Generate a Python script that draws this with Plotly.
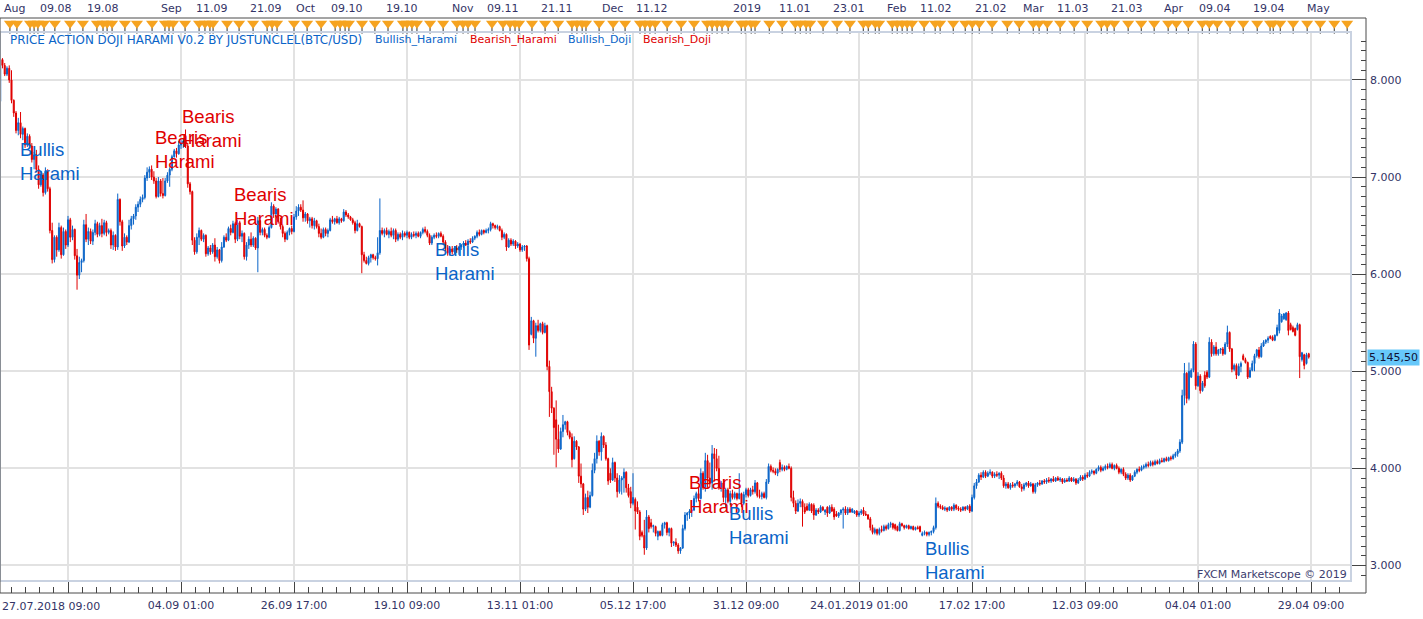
import plotly.graph_objects as go

# ---------------- DATA (8-hour BTC/USD bars, index 0 = 27.07.2018 09:00) ----------------
opens = [
    7780, 8210, 8150, 8060, 8120, 8000, 7790, 7660, 7480, 7560,
    7440, 7500, 7330, 7420, 7320, 7180, 7230, 7080, 6920, 7020,
    6840, 7060, 6880, 6450, 6150, 6380, 6250, 6480, 6200, 6440,
    6300, 6560, 6380, 6460, 6190, 5990, 6120, 6140, 6510, 6360,
    6440, 6340, 6430, 6520, 6410, 6500, 6420, 6530, 6430, 6450,
    6300, 6400, 6280, 6770, 6540, 6290, 6380, 6330, 6500, 6570,
    6600, 6690, 6720, 6770, 6790, 6990, 7050, 7080, 7000, 6960,
    6800, 6960, 6830, 6810, 6960, 7020, 7080, 7210, 7270, 7240,
    7330, 7350, 7370, 7320, 6930, 6850, 6350, 6230, 6380, 6450,
    6360, 6400, 6210, 6270, 6230, 6300, 6180, 6250, 6140, 6280,
    6380, 6350, 6470, 6430, 6520, 6360, 6530, 6390, 6420, 6180,
    6300, 6360, 6300, 6370, 6270, 6550, 6430, 6460, 6400, 6380,
    6480, 6700, 6620, 6670, 6540, 6490, 6420, 6360, 6430, 6470,
    6440, 6590, 6650, 6690, 6660, 6580, 6620, 6550, 6570, 6500,
    6550, 6490, 6420, 6380, 6460, 6420, 6450, 6560, 6540, 6570,
    6530, 6570, 6550, 6640, 6610, 6590, 6560, 6530, 6450, 6520,
    6490, 6200, 6140, 6110, 6170, 6200, 6170, 6160, 6220, 6450,
    6420, 6450, 6410, 6440, 6400, 6450, 6360, 6410, 6380, 6420,
    6400, 6430, 6380, 6410, 6400, 6420, 6390, 6430, 6460, 6440,
    6400, 6320, 6380, 6400, 6390, 6420, 6390, 6330, 6270, 6220,
    6260, 6230, 6270, 6250, 6280, 6300, 6320, 6300, 6340, 6330,
    6370, 6390, 6430, 6410, 6450, 6430, 6450, 6460, 6520, 6500,
    6480, 6490, 6450, 6380, 6410, 6280, 6350, 6310, 6340, 6290,
    6310, 6250, 6280, 6290, 6160, 5380, 5520, 5340, 5470, 5420,
    5490, 5400, 5470, 5050, 4790, 4620, 4500, 4300, 4200, 4380,
    4450, 4480, 4370, 4320, 4100, 4280, 4220, 3920, 3840, 3580,
    3700, 3600, 3720, 3980, 4100, 4280, 4170, 4330, 4240, 4100,
    3950, 3880, 4060, 3900, 3760, 3880, 3900, 3960, 3800, 3760,
    3640, 3680, 3600, 3550, 3340, 3310, 3180, 3500, 3440, 3400,
    3400, 3300, 3350, 3310, 3420, 3440, 3340, 3380, 3230, 3240,
    3210, 3150, 3180, 3380, 3520, 3540, 3560, 3570, 3690, 3740,
    3690, 3950, 3800, 4080, 3900, 3850, 4150, 4100, 4000, 3800,
    3850, 3700, 3780, 3660, 3740, 3700, 3740, 3690, 3740, 3640,
    3730, 3780, 3720, 3780, 3760, 3850, 3720, 3710, 3740, 3700,
    3860, 4020, 3980, 3970, 3950, 4060, 3990, 4010, 3990, 4020,
    4000, 3700, 3640, 3560, 3640, 3660, 3600, 3610, 3570, 3630,
    3620, 3520, 3570, 3550, 3600, 3550, 3600, 3540, 3600, 3580,
    3530, 3510, 3540, 3570, 3580, 3540, 3580, 3550, 3540, 3560,
    3520, 3540, 3570, 3530, 3520, 3480, 3390, 3340, 3370, 3330,
    3370, 3360, 3400, 3380, 3420, 3430, 3420, 3400, 3360, 3430,
    3410, 3390, 3410, 3380, 3400, 3370, 3390, 3400, 3310, 3330,
    3340, 3320, 3340, 3350, 3390, 3640, 3610, 3600, 3580, 3590,
    3570, 3600, 3580, 3620, 3590, 3580, 3570, 3600, 3580, 3610,
    3560, 3700, 3820, 3860, 3930, 3910, 3960, 3920, 3950, 3960,
    3920, 3940, 3930, 3950, 3900, 3820, 3840, 3800, 3830, 3820,
    3840, 3860, 3810, 3790, 3830, 3850, 3820, 3840, 3760, 3830,
    3850, 3840, 3870, 3860, 3880, 3870, 3890, 3870, 3900, 3880,
    3890, 3860, 3880, 3870, 3900, 3870, 3890, 3850, 3880, 3910,
    3890, 3930, 3920, 3960, 3970, 3950, 3990, 4010, 3980, 4000,
    4020, 4010, 4040, 4000, 4030, 4000, 3960, 3990, 3940, 3900,
    3930, 3880, 3920, 3960, 3990, 3980, 4010, 4020, 4040, 4030,
    4060, 4040, 4070, 4050, 4080, 4070, 4100, 4080, 4110, 4100,
    4130, 4150, 4180, 4270, 4750, 4980, 4720, 4940, 5010, 5280,
    4850, 4950, 4800, 4960, 4990, 4940, 5300, 5180, 5250, 5180,
    5220, 5230, 5180, 5280, 5400, 5230, 5020, 5060, 4960, 5050,
    5160, 5120, 5090, 4940, 5010, 5080, 5160, 5220, 5150, 5260,
    5300, 5320, 5360, 5350, 5320, 5370, 5420, 5510, 5540, 5530,
    5600, 5480, 5450, 5440, 5430, 5480, 5120, 5170, 5080, 5180,
]
highs = [
    8240, 8225, 8175, 8140, 8150, 8100, 7800, 7680, 7610, 7670,
    7520, 7510, 7450, 7440, 7350, 7260, 7280, 7120, 7060, 7040,
    7100, 7080, 6900, 6530, 6400, 6400, 6530, 6500, 6480, 6460,
    6600, 6580, 6500, 6470, 6260, 6180, 6160, 6560, 6620, 6480,
    6470, 6460, 6560, 6540, 6530, 6570, 6560, 6550, 6470, 6470,
    6440, 6410, 6830, 6780, 6560, 6420, 6400, 6560, 6600, 6620,
    6720, 6750, 6800, 6820, 7020, 7100, 7110, 7120, 7060, 6990,
    7000, 6980, 6990, 6990, 7050, 7100, 7230, 7290, 7300, 7370,
    7380, 7400, 7490, 7350, 6950, 6860, 6380, 6420, 6480, 6460,
    6420, 6410, 6290, 6300, 6320, 6370, 6280, 6260, 6330, 6400,
    6420, 6490, 6510, 6550, 6540, 6560, 6550, 6450, 6430, 6330,
    6390, 6430, 6390, 6380, 6590, 6560, 6480, 6480, 6420, 6500,
    6740, 6720, 6690, 6680, 6580, 6510, 6440, 6450, 6480, 6500,
    6620, 6700, 6720, 6720, 6760, 6640, 6630, 6590, 6590, 6580,
    6560, 6520, 6470, 6480, 6480, 6470, 6580, 6600, 6580, 6600,
    6590, 6580, 6670, 6660, 6630, 6600, 6580, 6550, 6560, 6530,
    6500, 6230, 6180, 6190, 6210, 6210, 6190, 6380, 6780, 6480,
    6470, 6480, 6460, 6480, 6470, 6470, 6430, 6430, 6450, 6440,
    6450, 6440, 6430, 6440, 6440, 6440, 6440, 6480, 6490, 6460,
    6420, 6400, 6420, 6430, 6430, 6440, 6410, 6350, 6300, 6280,
    6290, 6290, 6300, 6290, 6310, 6340, 6350, 6360, 6370, 6390,
    6400, 6450, 6460, 6460, 6460, 6470, 6480, 6540, 6530, 6510,
    6510, 6500, 6470, 6430, 6420, 6370, 6370, 6360, 6350, 6330,
    6320, 6300, 6300, 6300, 6180, 5560, 5530, 5500, 5530, 5500,
    5510, 5500, 5480, 5110, 4840, 4630, 4700, 4450, 4420, 4550,
    4490, 4490, 4390, 4360, 4330, 4290, 4230, 4050, 3850, 3740,
    3770, 3760, 4050, 4160, 4340, 4290, 4370, 4340, 4270, 4110,
    4000, 4110, 4070, 3950, 3930, 3920, 4000, 3970, 3840, 3810,
    3950, 3700, 3660, 3570, 3360, 3470, 3570, 3520, 3480, 3420,
    3410, 3360, 3360, 3440, 3450, 3450, 3390, 3390, 3250, 3280,
    3230, 3190, 3420, 3550, 3550, 3580, 3580, 3720, 3760, 3800,
    4000, 3970, 4160, 4140, 4060, 4240, 4210, 4200, 4130, 3870,
    3890, 3800, 3800, 3770, 3780, 3760, 3750, 3950, 3750, 3760,
    3800, 3800, 3800, 3820, 3880, 3860, 3780, 3760, 3760, 3890,
    4050, 4040, 4010, 4000, 4000, 4090, 4040, 4030, 4030, 4050,
    4020, 3770, 3670, 3680, 3690, 3680, 3640, 3640, 3650, 3640,
    3640, 3590, 3590, 3620, 3610, 3580, 3610, 3620, 3630, 3600,
    3560, 3550, 3580, 3600, 3610, 3600, 3600, 3590, 3570, 3570,
    3560, 3580, 3600, 3560, 3530, 3500, 3420, 3390, 3380, 3390,
    3410, 3420, 3420, 3440, 3450, 3440, 3430, 3410, 3450, 3440,
    3420, 3420, 3420, 3410, 3410, 3400, 3410, 3410, 3350, 3360,
    3350, 3350, 3360, 3410, 3700, 3660, 3630, 3620, 3610, 3600,
    3610, 3610, 3640, 3630, 3610, 3600, 3610, 3610, 3620, 3630,
    3730, 3850, 3890, 3950, 3960, 3980, 3980, 3970, 3990, 3970,
    3960, 3970, 3960, 3970, 3930, 3860, 3860, 3850, 3860, 3850,
    3880, 3870, 3840, 3850, 3860, 3870, 3860, 3850, 3850, 3860,
    3880, 3880, 3890, 3900, 3910, 3900, 3920, 3910, 3920, 3910,
    3900, 3900, 3900, 3920, 3910, 3910, 3900, 3900, 3930, 3930,
    3950, 3960, 3980, 3990, 3980, 4000, 4030, 4030, 4020, 4040,
    4050, 4060, 4060, 4040, 4050, 4020, 4000, 4010, 3960, 3950,
    3950, 3930, 3980, 4000, 4020, 4030, 4040, 4060, 4070, 4080,
    4080, 4090, 4090, 4100, 4110, 4110, 4120, 4120, 4130, 4150,
    4170, 4200, 4300, 4810, 5085, 4990, 5090, 5030, 5310, 5300,
    4990, 4970, 4900, 5000, 5010, 5350, 5330, 5270, 5300, 5230,
    5240, 5250, 5300, 5470, 5410, 5240, 5080, 5080, 5080, 5100,
    5180, 5140, 5100, 5040, 5110, 5180, 5230, 5250, 5290, 5320,
    5330, 5360, 5370, 5370, 5380, 5480, 5640, 5590, 5600, 5610,
    5620, 5500, 5470, 5450, 5500, 5490, 5200, 5180, 5190, 5190,
]
lows = [
    7760, 8120, 8040, 8040, 7970, 7760, 7620, 7450, 7430, 7400,
    7380, 7300, 7310, 7300, 7150, 7080, 7050, 6880, 6900, 6800,
    6820, 6850, 6420, 6110, 6120, 6180, 6230, 6160, 6190, 6260,
    6280, 6330, 6350, 6150, 5840, 5950, 6020, 6120, 6330, 6300,
    6310, 6300, 6400, 6380, 6390, 6380, 6400, 6390, 6410, 6260,
    6250, 6240, 6250, 6500, 6240, 6270, 6300, 6320, 6460, 6510,
    6560, 6640, 6690, 6740, 6770, 6960, 6990, 6970, 6930, 6780,
    6790, 6800, 6780, 6800, 6940, 6900, 7060, 7200, 7200, 7230,
    7290, 7300, 7300, 6890, 6820, 6300, 6200, 6210, 6300, 6340,
    6330, 6180, 6190, 6200, 6210, 6130, 6160, 6110, 6120, 6270,
    6330, 6340, 6400, 6420, 6320, 6340, 6360, 6330, 6150, 6140,
    6260, 6280, 6280, 6250, 6020, 6400, 6400, 6380, 6360, 6370,
    6470, 6580, 6590, 6520, 6460, 6380, 6330, 6350, 6400, 6410,
    6430, 6560, 6600, 6640, 6540, 6540, 6520, 6480, 6470, 6460,
    6470, 6380, 6360, 6370, 6390, 6380, 6440, 6520, 6510, 6520,
    6510, 6530, 6540, 6590, 6570, 6550, 6510, 6420, 6440, 6480,
    6010, 6120, 6100, 6090, 6120, 6150, 6140, 6090, 6200, 6400,
    6380, 6400, 6370, 6380, 6360, 6330, 6340, 6360, 6350, 6380,
    6370, 6360, 6360, 6380, 6370, 6380, 6370, 6410, 6420, 6380,
    6300, 6300, 6360, 6370, 6370, 6380, 6310, 6240, 6190, 6190,
    6200, 6210, 6220, 6200, 6250, 6270, 6290, 6290, 6310, 6320,
    6350, 6370, 6390, 6400, 6410, 6420, 6420, 6440, 6470, 6460,
    6460, 6440, 6350, 6360, 6240, 6270, 6290, 6290, 6260, 6270,
    6230, 6230, 6240, 6130, 5220, 5370, 5290, 5150, 5400, 5400,
    5380, 5390, 5010, 4530, 4570, 4140, 4010, 4160, 4190, 4320,
    4400, 4340, 4300, 4010, 4090, 4190, 3850, 3800, 3520, 3560,
    3540, 3590, 3710, 3950, 4050, 4130, 4080, 4210, 4080, 3830,
    3850, 3870, 3860, 3700, 3740, 3730, 3750, 3750, 3700, 3590,
    3620, 3370, 3530, 3260, 3290, 3110, 3160, 3340, 3380, 3340,
    3300, 3260, 3300, 3300, 3380, 3310, 3300, 3190, 3200, 3190,
    3120, 3120, 3170, 3360, 3460, 3480, 3500, 3560, 3650, 3660,
    3680, 3780, 3760, 3800, 3810, 3780, 3870, 3970, 3780, 3760,
    3650, 3600, 3640, 3620, 3680, 3680, 3670, 3680, 3600, 3620,
    3700, 3700, 3710, 3730, 3740, 3700, 3690, 3680, 3690, 3680,
    3840, 3960, 3950, 3930, 3920, 3960, 3970, 3970, 3980, 3990,
    3660, 3600, 3530, 3550, 3600, 3400, 3530, 3560, 3560, 3540,
    3470, 3510, 3530, 3540, 3560, 3520, 3500, 3530, 3550, 3470,
    3500, 3490, 3520, 3380, 3520, 3520, 3540, 3540, 3530, 3500,
    3500, 3520, 3510, 3510, 3470, 3360, 3320, 3320, 3310, 3310,
    3340, 3350, 3360, 3370, 3390, 3370, 3360, 3350, 3350, 3400,
    3370, 3380, 3370, 3370, 3360, 3360, 3370, 3340, 3300, 3310,
    3300, 3300, 3310, 3330, 3370, 3590, 3580, 3570, 3560, 3550,
    3560, 3560, 3560, 3570, 3560, 3550, 3560, 3560, 3570, 3540,
    3550, 3680, 3790, 3850, 3880, 3900, 3900, 3910, 3930, 3900,
    3900, 3910, 3890, 3880, 3800, 3790, 3790, 3780, 3800, 3800,
    3820, 3800, 3760, 3770, 3810, 3800, 3810, 3740, 3740, 3810,
    3820, 3830, 3840, 3840, 3850, 3850, 3860, 3860, 3870, 3860,
    3840, 3850, 3860, 3860, 3860, 3860, 3830, 3840, 3870, 3870,
    3880, 3900, 3910, 3940, 3930, 3940, 3970, 3960, 3970, 3980,
    3990, 4000, 3990, 3980, 3990, 3940, 3940, 3920, 3880, 3880,
    3860, 3870, 3910, 3940, 3960, 3970, 3990, 4000, 4010, 4020,
    4020, 4030, 4040, 4040, 4060, 4060, 4070, 4070, 4080, 4090,
    4110, 4120, 4160, 4250, 4650, 4670, 4700, 4930, 4990, 4810,
    4840, 4770, 4790, 4830, 4920, 4930, 5150, 5160, 5160, 5160,
    5180, 5160, 5170, 5250, 5200, 4990, 5000, 4920, 4950, 4990,
    5110, 5080, 4920, 4930, 5000, 5000, 5140, 5130, 5140, 5250,
    5280, 5290, 5330, 5310, 5310, 5360, 5390, 5500, 5530, 5520,
    5370, 5420, 5400, 5360, 5420, 4930, 5100, 5020, 5070, 5130,
]
closes = [
    8210, 8150, 8060, 8120, 8000, 7790, 7660, 7480, 7560, 7440,
    7500, 7330, 7420, 7320, 7180, 7230, 7080, 6920, 7020, 6840,
    7060, 6880, 6450, 6150, 6380, 6250, 6480, 6200, 6440, 6300,
    6560, 6380, 6460, 6190, 5990, 6120, 6140, 6510, 6360, 6440,
    6340, 6430, 6520, 6410, 6500, 6420, 6530, 6430, 6450, 6300,
    6400, 6280, 6770, 6540, 6290, 6380, 6330, 6500, 6570, 6600,
    6690, 6720, 6770, 6790, 6990, 7050, 7080, 7000, 6960, 6800,
    6960, 6830, 6810, 6960, 7020, 7080, 7210, 7270, 7240, 7330,
    7350, 7370, 7320, 6930, 6850, 6350, 6230, 6380, 6450, 6360,
    6400, 6210, 6270, 6230, 6300, 6180, 6250, 6140, 6280, 6380,
    6350, 6470, 6430, 6520, 6360, 6530, 6390, 6420, 6180, 6300,
    6360, 6300, 6370, 6270, 6550, 6430, 6460, 6400, 6380, 6480,
    6700, 6620, 6670, 6540, 6490, 6420, 6360, 6430, 6470, 6440,
    6590, 6650, 6690, 6660, 6580, 6620, 6550, 6570, 6500, 6550,
    6490, 6420, 6380, 6460, 6420, 6450, 6560, 6540, 6570, 6530,
    6570, 6550, 6640, 6610, 6590, 6560, 6530, 6450, 6520, 6490,
    6200, 6140, 6110, 6170, 6200, 6170, 6160, 6220, 6450, 6420,
    6450, 6410, 6440, 6400, 6450, 6360, 6410, 6380, 6420, 6400,
    6430, 6380, 6410, 6400, 6420, 6390, 6430, 6460, 6440, 6400,
    6320, 6380, 6400, 6390, 6420, 6390, 6330, 6270, 6220, 6260,
    6230, 6270, 6250, 6280, 6300, 6320, 6300, 6340, 6330, 6370,
    6390, 6430, 6410, 6450, 6430, 6450, 6460, 6520, 6500, 6480,
    6490, 6450, 6380, 6410, 6280, 6350, 6310, 6340, 6290, 6310,
    6250, 6280, 6290, 6160, 5270, 5520, 5340, 5470, 5420, 5490,
    5400, 5470, 5050, 4790, 4620, 4420, 4300, 4200, 4380, 4450,
    4480, 4370, 4320, 4090, 4280, 4220, 3920, 3840, 3580, 3700,
    3600, 3720, 3980, 4100, 4280, 4170, 4330, 4240, 4100, 3870,
    3880, 4060, 3900, 3760, 3880, 3900, 3960, 3800, 3720, 3640,
    3700, 3560, 3550, 3300, 3310, 3180, 3500, 3380, 3400, 3410,
    3330, 3350, 3310, 3420, 3440, 3340, 3380, 3230, 3240, 3210,
    3150, 3180, 3380, 3520, 3540, 3560, 3570, 3690, 3740, 3690,
    3950, 3800, 4080, 3900, 3850, 4150, 4100, 4000, 3800, 3850,
    3700, 3780, 3660, 3740, 3700, 3740, 3690, 3740, 3640, 3730,
    3780, 3720, 3780, 3760, 3850, 3720, 3710, 3740, 3700, 3860,
    4020, 3980, 3970, 3950, 3990, 3990, 4010, 3990, 4020, 4000,
    3700, 3640, 3560, 3640, 3660, 3600, 3550, 3570, 3630, 3560,
    3520, 3570, 3550, 3600, 3570, 3570, 3540, 3600, 3560, 3500,
    3510, 3540, 3570, 3580, 3540, 3580, 3550, 3580, 3560, 3520,
    3540, 3560, 3530, 3520, 3480, 3390, 3340, 3370, 3330, 3370,
    3360, 3400, 3380, 3420, 3430, 3390, 3380, 3360, 3430, 3410,
    3390, 3410, 3380, 3400, 3370, 3390, 3380, 3350, 3330, 3340,
    3320, 3340, 3350, 3390, 3640, 3610, 3600, 3580, 3590, 3570,
    3600, 3580, 3620, 3590, 3580, 3570, 3600, 3580, 3610, 3560,
    3700, 3820, 3860, 3930, 3910, 3960, 3920, 3950, 3960, 3920,
    3940, 3930, 3950, 3900, 3820, 3840, 3800, 3830, 3820, 3840,
    3860, 3810, 3790, 3830, 3850, 3820, 3840, 3760, 3830, 3850,
    3840, 3870, 3860, 3880, 3870, 3890, 3870, 3900, 3880, 3890,
    3860, 3880, 3870, 3900, 3870, 3890, 3850, 3880, 3910, 3890,
    3930, 3920, 3960, 3970, 3950, 3990, 4010, 3980, 4000, 4020,
    4010, 4040, 4000, 4030, 4000, 3960, 3990, 3940, 3900, 3930,
    3880, 3920, 3960, 3990, 3980, 4010, 4020, 4040, 4030, 4060,
    4040, 4070, 4050, 4080, 4070, 4100, 4080, 4110, 4100, 4130,
    4150, 4180, 4270, 4750, 4980, 4720, 5000, 5010, 5280, 4850,
    4950, 4800, 4880, 4850, 4940, 5300, 5180, 5250, 5180, 5220,
    5230, 5180, 5280, 5400, 5230, 5020, 5060, 4960, 5050, 5080,
    5120, 5090, 4940, 5010, 5080, 5160, 5220, 5150, 5260, 5300,
    5320, 5340, 5340, 5320, 5370, 5450, 5600, 5570, 5590, 5600,
    5420, 5430, 5410, 5370, 5480, 5150, 5190, 5060, 5170, 5145.5,
]
assert len(opens) == len(highs) == len(lows) == len(closes)
bars = list(range(len(closes)))
last_price = closes[-1]

# bottom time axis (bar index -> label)
bottom_tick_bars = [30, 80, 130, 180, 230, 280, 330, 380, 430, 480, 530, 580]
bottom_tick_labels = ["", "04.09 01:00", "26.09 17:00", "19.10 09:00", "13.11 01:00",
                      "05.12 17:00", "31.12 09:00", "24.01.2019 01:00", "17.02 17:00",
                      "12.03 09:00", "04.04 01:00", "29.04 09:00"]
first_bar_label = "27.07.2018 09:00"

# top calendar axis
top_label_bars = [6.5, 24.7, 45.5, 75.6, 93.9, 117.8, 135.5, 153.5, 177.6, 204.6, 222.3,
                  246.4, 270.9, 288.4, 330.4, 351.7, 375.6, 396.4, 414.1, 438.6, 457.0,
                  474.5, 498.6, 519.4, 537.3, 561.2, 583.5]
top_labels = ["Aug", "09.08", "19.08", "Sep", "11.09", "21.09", "Oct", "09.10", "19.10",
              "Nov", "09.11", "21.11", "Dec", "11.12", "2019", "11.01", "23.01", "Feb",
              "11.02", "21.02", "Mar", "11.03", "21.03", "Apr", "09.04", "19.04", "May"]

# calendar event markers (bar index)
event_bars = [4.3, 7.4, 13.2, 15.0, 16.7, 19.4, 24.2, 30.9, 36.6, 42.8, 45.5, 47.3, 49.5,
              55.2, 60.5, 67.2, 72.9, 74.7, 76.5, 81.8, 88.0, 90.6, 92.8, 94.2, 100.4,
              105.7, 111.9, 118.1, 120.3, 122.5, 130.0, 135.8, 142.0, 148.2, 150.4, 152.6,
              154.3, 160.1, 165.8, 171.6, 178.2, 180.0, 182.2, 184.4, 190.2, 196.0, 202.1,
              204.8, 207.0, 210.1, 217.6, 222.5, 225.6, 227.8, 229.6, 235.3, 241.1, 246.9,
              253.0, 255.2, 257.5, 259.2, 265.0, 271.2, 276.5, 283.1, 285.3, 287.5, 289.8,
              295.1, 301.3, 307.0, 312.8, 315.0, 317.2, 319.4, 322.1, 327.9, 329.6, 332.3,
              334.0, 340.3, 346.0, 351.8, 354.0, 356.6, 358.4, 364.1, 370.3, 376.0, 381.9,
              384.1, 387.2, 388.9, 394.7, 396.9, 399.1, 401.3, 403.5, 408.8, 413.7, 415.9,
              421.7, 427.0, 430.1, 433.2, 438.9, 445.6, 450.9, 457.1, 459.7, 463.3, 469.0,
              475.2, 481.0, 487.2, 489.8, 492.9, 499.1, 504.9, 510.6, 516.8, 520.4, 525.7,
              531.9, 535.0, 538.5, 544.2, 550.0, 556.2, 561.9, 563.3, 566.4, 572.1, 578.3,
              584.1, 590.3, 596.0]

# pattern labels (bar index, price at text top, kind)
pattern_bars = [8.0, 67.5, 79.6, 102.7, 191.6, 304.0, 321.5, 408.4]
pattern_prices = [7416, 7536, 7749, 6946, 6386, 3983, 3663, 3306]
pattern_kinds = ["bull", "bear", "bear", "bear", "bull", "bear", "bull", "bull"]

legend_items = ["PRICE ACTION DOJI HARAMI V0.2 BY JUSTUNCLEL(BTC/USD)", "Bullish_Harami",
                "Bearish_Harami", "Bullish_Doji", "Bearish_Doji"]
legend_kinds = ["bull", "bull", "bear", "bull", "bear"]

y_ticks = [3000, 4000, 5000, 6000, 7000, 8000]

# ---------------- STYLE / LAYOUT ----------------
BLUE = "#0a64c8"
RED = "#e00000"
AXIS_TXT = "#333366"
FONT = "DejaVu Sans"
W, H = 1423, 619
ML, MR, MT, MB = 0, 57, 18, 26
PW, PH = W - ML - MR, H - MT - MB
INNER_R, INNER_T, INNER_B = 1351, 32, 581
BASE = H - MB
xdom = [0, INNER_R / PW]
ydom = [(BASE - INNER_B) / PH, (BASE - INNER_T) / PH]
BAR_PX, BAR0_PX = 2.26, 0.2
x_range = [(0 - BAR0_PX) / BAR_PX, (INNER_R - BAR0_PX) / BAR_PX]
y_range = [2840, 8494]
BAND_TOP, BAND_BOTTOM = MT, INNER_T  # event band between outer and inner frame

fig = go.Figure()
fig.add_trace(go.Candlestick(
    x=bars, open=opens, high=highs, low=lows, close=closes,
    increasing=dict(line=dict(color=BLUE, width=1), fillcolor=BLUE),
    decreasing=dict(line=dict(color=RED, width=1), fillcolor=RED),
    whiskerwidth=0, hoverinfo="skip", showlegend=False,
))

band_h = BAND_BOTTOM - BAND_TOP
ev_y_tri = (BAND_BOTTOM - 23.5) / band_h
ev_y_tick = (BAND_BOTTOM - 29.5) / band_h
fig.add_trace(go.Scatter(
    x=event_bars, y=[ev_y_tick] * len(event_bars), xaxis="x2", yaxis="y3", mode="markers",
    marker=dict(symbol="line-ns", size=6, line=dict(color="#333333", width=1)),
    cliponaxis=False, hoverinfo="skip", showlegend=False,
))
fig.add_trace(go.Scatter(
    x=event_bars, y=[ev_y_tri] * len(event_bars), xaxis="x2", yaxis="y3", mode="markers",
    marker=dict(symbol="triangle-down", size=10.5, color="#f6a31f", line=dict(width=0)),
    cliponaxis=False, hoverinfo="skip", showlegend=False,
))

annotations = []
# legend-like caption line
legend_px = [8, 373, 468, 566, 641]
legend_sizes = [11.9, 11, 11, 11, 11]
for txt, kind, px, fs in zip(legend_items, legend_kinds, legend_px, legend_sizes):
    annotations.append(dict(
        text=txt, xref="paper", yref="paper", x=px / PW, y=(BASE - 39.5) / PH,
        xanchor="left", yanchor="middle", showarrow=False,
        font=dict(family=FONT, size=fs, color=BLUE if kind == "bull" else RED)))
# top calendar labels
for b, t in zip(top_label_bars, top_labels):
    annotations.append(dict(
        text=t, xref="x", yref="paper", x=b, y=(BASE - 9) / PH,
        xanchor="center", yanchor="middle", showarrow=False,
        font=dict(family=FONT, size=11, color=AXIS_TXT)))
# first bottom label
annotations.append(dict(
    text=first_bar_label, xref="paper", yref="paper", x=0, y=(BASE - 606) / PH,
    xanchor="left", yanchor="middle", showarrow=False,
    font=dict(family=FONT, size=11, color=AXIS_TXT)))
# copyright
annotations.append(dict(
    text="FXCM Marketscope © 2019", xref="paper", yref="paper", x=1349 / PW,
    y=(BASE - 574) / PH, xanchor="right", yanchor="middle", showarrow=False,
    font=dict(family=FONT, size=11, color="#3c3c6e")))
# last price tag
annotations.append(dict(
    text="5.145,50", xref="paper", yref="y", x=1.0, y=last_price,
    xanchor="left", yanchor="middle", showarrow=False, xshift=1,
    bgcolor="#66c8fa", borderpad=1,
    font=dict(family=FONT, size=11, color="#111133")))
# pattern labels
for b, p, k in zip(pattern_bars, pattern_prices, pattern_kinds):
    annotations.append(dict(
        text=("Bullis" if k == "bull" else "Bearis") + "<br>Harami",
        xref="x", yref="y", x=b, y=p, xanchor="left", yanchor="top",
        align="left", showarrow=False,
        font=dict(family="Liberation Sans", size=18.5, color=BLUE if k == "bull" else RED)))

shapes = [
    dict(type="rect", xref="x domain", yref="y domain", x0=0, x1=1, y0=0, y1=1,
         line=dict(color="#c9d2e1", width=2), layer="above"),
    dict(type="rect", xref="paper", yref="paper", x0=0, x1=1, y0=0, y1=1,
         line=dict(color="#4a4a4a", width=1), layer="above"),
]

fig.update_layout(
    width=W, height=H, autosize=False,
    margin=dict(l=ML, r=MR, t=MT, b=MB, pad=0),
    paper_bgcolor="white", plot_bgcolor="white",
    separators=",.",
    showlegend=False,
    boxgap=0.55, boxgroupgap=0,
    font=dict(family=FONT, size=11, color=AXIS_TXT),
    xaxis=dict(
        domain=xdom, range=x_range, anchor="free", position=0,
        rangeslider=dict(visible=False),
        tickmode="array", tickvals=bottom_tick_bars, ticktext=bottom_tick_labels,
        ticks="inside", ticklen=12, tickwidth=1, tickcolor="#444444",
        ticklabelstandoff=4,
        tickfont=dict(family=FONT, size=11, color=AXIS_TXT),
        showgrid=True, gridcolor="#e2e2e2", gridwidth=1.5,
        showline=False, zeroline=False,
        minor=dict(tickmode="linear", tick0=30, dtick=6.25, ticks="inside",
                   ticklen=6, tickcolor="#444444", showgrid=False),
    ),
    yaxis=dict(
        domain=ydom, range=y_range, anchor="free", position=1, side="right",
        tickmode="array", tickvals=y_ticks, tickformat=",d",
        ticks="inside", ticklen=14, tickwidth=1, tickcolor="#444444",
        ticklabelstandoff=3,
        tickfont=dict(family=FONT, size=11, color=AXIS_TXT),
        showgrid=True, gridcolor="#e2e2e2", gridwidth=1.5,
        showline=False, zeroline=False,
        minor=dict(tickmode="linear", tick0=3000, dtick=100, ticks="inside",
                   ticklen=5, tickcolor="#444444", showgrid=False),
    ),
    xaxis2=dict(domain=xdom, range=x_range, anchor="y3", visible=False,
                showgrid=False, zeroline=False),
    yaxis3=dict(domain=[ydom[1], 1], range=[0, 1], anchor="x2", visible=False,
                showgrid=False, zeroline=False),
    annotations=annotations,
    shapes=shapes,
)

fig.write_html("out.html")
